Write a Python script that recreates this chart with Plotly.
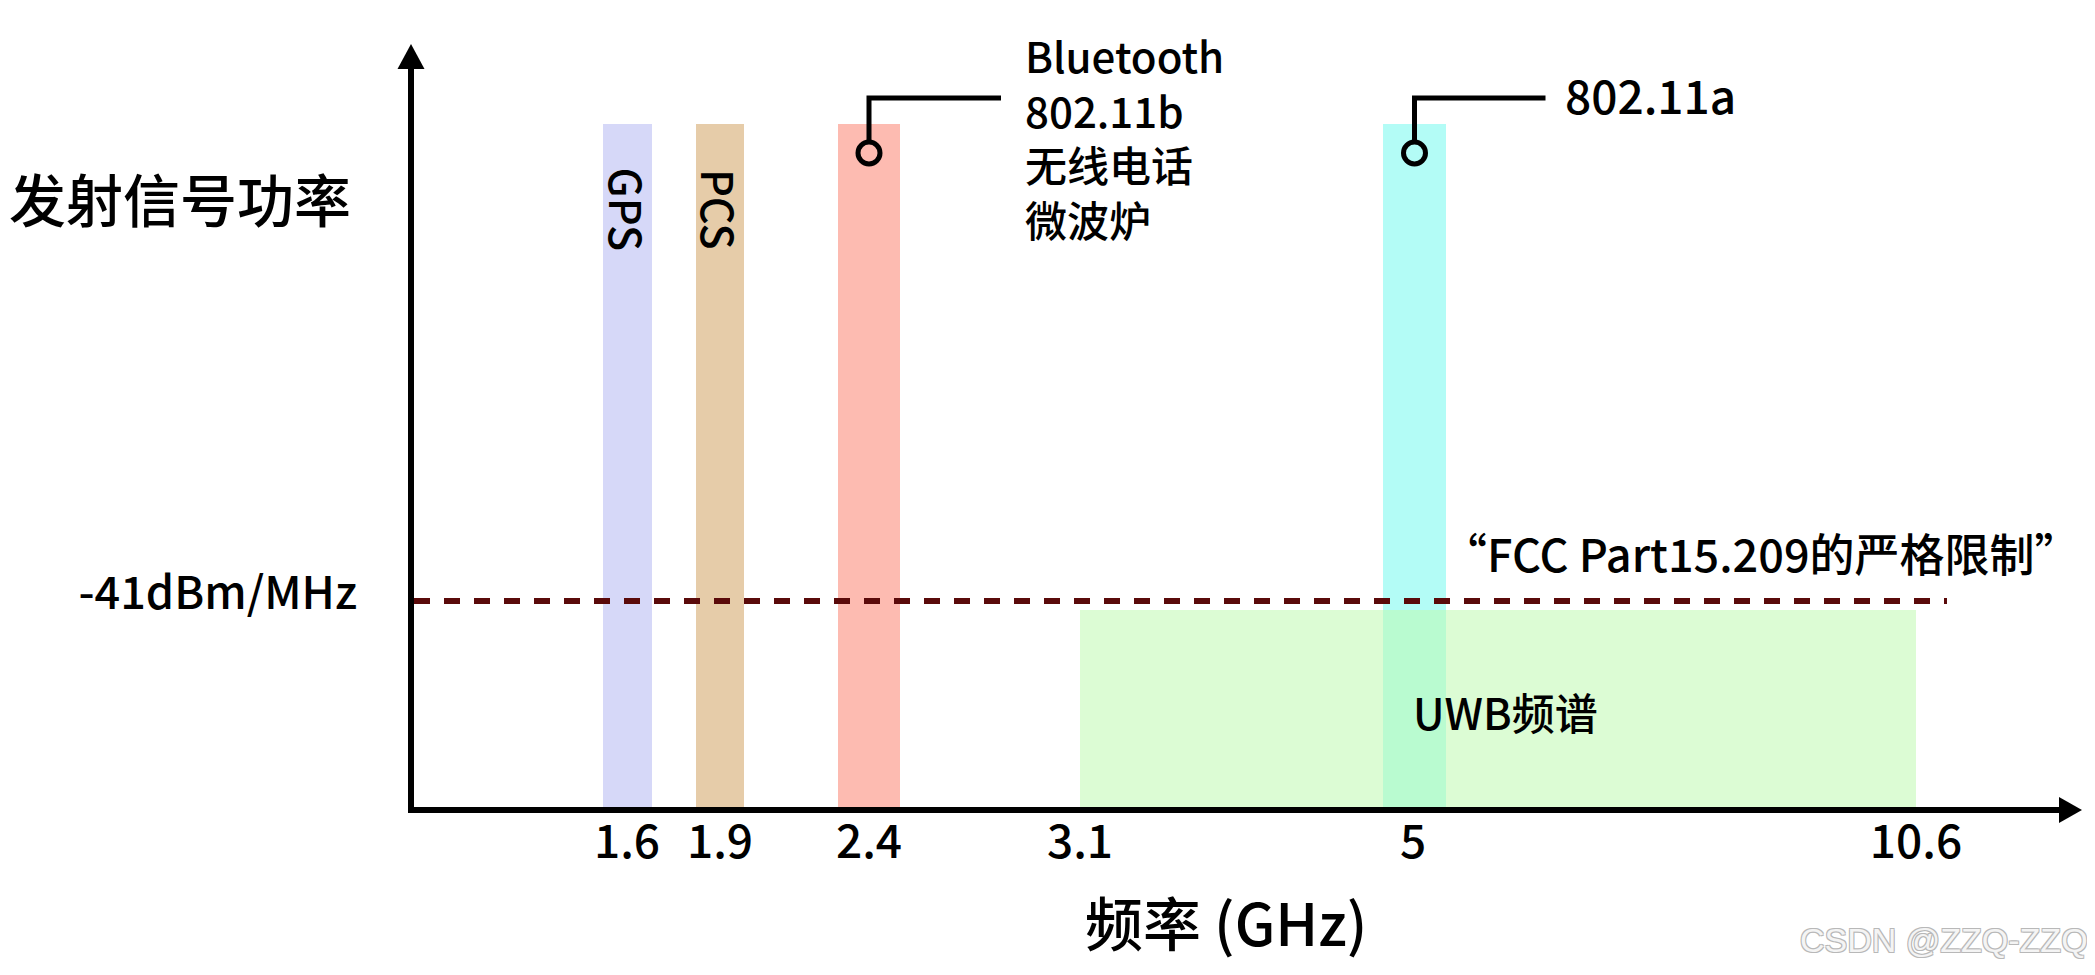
import plotly.graph_objects as go

# ---------------- data ----------------
# schematic (non-linear) frequency axis: position of each labelled frequency
freq_labels = ["1.6", "1.9", "2.4", "3.1", "5", "10.6"]
freq_pos = [21.3, 30.6, 45.5, 66.6, 99.9, 150.2]

# narrow-band services
band_names = ["GPS", "PCS", "Bluetooth / 802.11b", "802.11a"]
band_center = [21.35, 30.6, 45.5, 100.05]
band_width = [4.9, 4.8, 6.2, 6.3]
band_height = [68.3, 68.3, 68.3, 68.3]
band_colors = ["#d6d8f8", "#e6cca9", "#fdbbb1", "#b3fcf6"]

# UWB spectrum (3.1 - 10.6 GHz) and FCC limit
uwb_start = freq_pos[3]
uwb_end = freq_pos[5]
uwb_level = 19.7
uwb_color = "rgba(190,250,176,0.54)"
limit_level = 20.6
limit_end = 153.3
limit_label = "-41dBm/MHz"

# callout texts
bt_lines = ["Bluetooth", "802.11b", "无线电话", "微波炉"]
a_label = "802.11a"
marker_level = 65.4

FONT = "Noto Sans CJK SC"
W = 500
X_MAX, Y_MAX = 164.8, 74.1


def f(size, color="black", family=FONT, weight=W, **kw):
    return dict(family=family, size=size, color=color, weight=weight, **kw)


fig = go.Figure()

for name, c, w, h, col in zip(band_names, band_center, band_width, band_height, band_colors):
    fig.add_trace(go.Bar(x=[c], y=[h], width=[w], marker=dict(color=col, line=dict(width=0)),
                         name=name, showlegend=False, hoverinfo="skip"))

fig.add_trace(go.Bar(x=[(uwb_start + uwb_end) / 2], y=[uwb_level], width=[uwb_end - uwb_start],
                     marker=dict(color=uwb_color, line=dict(width=0)), name="UWB",
                     showlegend=False, hoverinfo="skip"))

fig.add_trace(go.Scatter(x=[0, limit_end], y=[limit_level, limit_level], mode="lines",
                         line=dict(color="#5a0a0a", width=6, dash="16px,14px"),
                         showlegend=False, hoverinfo="skip"))

# callout leaders (from band 2 and band 4)
leader_top = 70.9
for idx, end_dx in [(2, 13.2), (3, 13.1)]:
    cx = band_center[idx]
    fig.add_trace(go.Scatter(x=[cx, cx, cx + end_dx], y=[marker_level + 1.3, leader_top, leader_top],
                             mode="lines", line=dict(color="black", width=5),
                             showlegend=False, hoverinfo="skip", cliponaxis=False))
    fig.add_trace(go.Scatter(x=[cx], y=[marker_level], mode="markers",
                             marker=dict(size=22, color="rgba(0,0,0,0)", line=dict(color="black", width=5)),
                             showlegend=False, hoverinfo="skip", cliponaxis=False))

ann = []
# vertical band labels
for i in (0, 1):
    ann.append(dict(x=band_center[i], y=59.8, xref="x", yref="y", text=band_names[i], textangle=90,
                    xanchor="center", yanchor="middle", showarrow=False, font=f(43)))
# Bluetooth callout (one multi-line text block)
ann.append(dict(x=60.9, y=0.9055, xref="x", yref="paper", text="<br>".join(bt_lines),
                xanchor="left", yanchor="middle", align="left", showarrow=False, font=f(42)))
ann.append(dict(x=114.9, y=0.962, xref="x", yref="paper", text=a_label, xanchor="left", yanchor="middle",
                showarrow=False, font=f(46)))
ann.append(dict(x=134.7, y=25.5, xref="x", yref="y", text="“FCC Part15.209的严格限制”",
                xanchor="center", yanchor="middle", showarrow=False, font=f(45)))
ann.append(dict(x=109.1, y=9.6, xref="x", yref="y", text="UWB频谱",
                xanchor="center", yanchor="middle", showarrow=False, font=f(43)))
# axis titles
ann.append(dict(x=-0.037, y=0.823, xref="paper", yref="paper", text="发射信号功率",
                xanchor="right", yanchor="middle", showarrow=False, font=f(57)))
ann.append(dict(x=0.493, y=-0.154, xref="paper", yref="paper", text="频率 (GHz)",
                xanchor="center", yanchor="middle", showarrow=False, font=f(58)))
# watermark
ann.append(dict(x=1.017, y=-0.1795, xref="paper", yref="paper", text="CSDN @ZZQ-ZZQ",
                xanchor="right", yanchor="middle", showarrow=False,
                font=dict(family="Liberation Sans", size=34, color="#f4f4f4",
                          shadow="1px 1px 0 #b8b8b8, -1px -1px 0 #b8b8b8, 1px -1px 0 #b8b8b8, -1px 1px 0 #b8b8b8")))

shapes = [
    dict(type="path", xref="paper", yref="paper", xsizemode="pixel", ysizemode="pixel",
         xanchor=0, yanchor=1, path="M -16.5,-3 L 10.5,-3 L -3,22 Z",
         fillcolor="black", line=dict(width=0), layer="above"),
    dict(type="path", xref="paper", yref="paper", xsizemode="pixel", ysizemode="pixel",
         xanchor=1, yanchor=0, path="M -3,10 L -3,-16 L 20,-3 Z",
         fillcolor="black", line=dict(width=0), layer="above"),
]

# page body has an 8px default margin: shift the layout up/left by 8px
fig.update_layout(
    width=2095, height=975,
    margin=dict(l=406, r=41, t=58, b=176, pad=0),
    paper_bgcolor="white", plot_bgcolor="white",
    barmode="overlay",
    annotations=ann, shapes=shapes,
    xaxis=dict(range=[0, X_MAX], showgrid=False, zeroline=False, showline=True, linewidth=6,
               linecolor="black", tickvals=freq_pos, ticktext=freq_labels, ticks="",
               ticklabelstandoff=-10, tickfont=f(46), fixedrange=True),
    yaxis=dict(range=[0, Y_MAX], showgrid=False, zeroline=False, showline=True, linewidth=6,
               linecolor="black", tickvals=[limit_level], ticktext=[limit_label], ticks="",
               ticklabelstandoff=42, ticklabelshift=-8, tickfont=f(45), fixedrange=True),
)

fig.write_html("out.html")
